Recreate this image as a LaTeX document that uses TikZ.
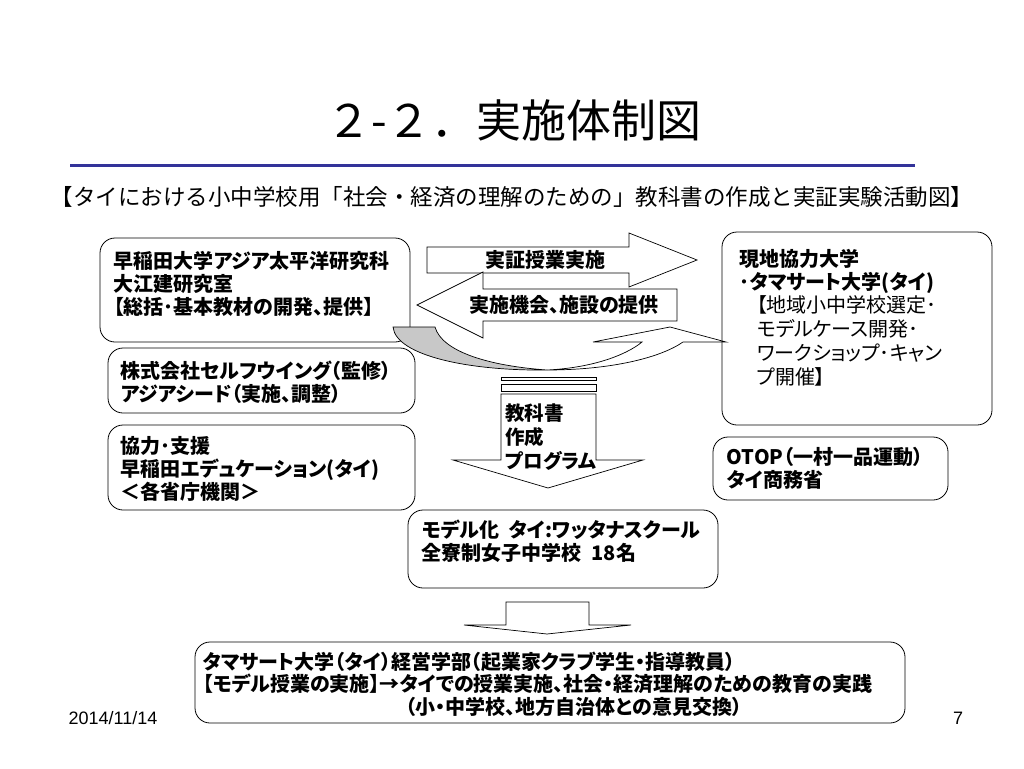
\documentclass[tikz,border=0pt]{standalone}
\usepackage{fontspec}
\setmainfont{Liberation Sans}
\newfontfamily\jp[RawFeature=+palt]{Noto Sans CJK JP}
\newfontfamily\jpw{Noto Sans CJK JP}
\usetikzlibrary{
    positioning,
    calc
}
\definecolor{slideblue}{RGB}{51,51,153}
\definecolor{curlgray}{RGB}{200,200,200}
\newcommand{\orgfont}{\jp\bfseries\fontsize{20}{23}\selectfont}
\newcommand{\orgthin}{\jp\fontsize{20}{24}\selectfont}
\tikzset{
    org/.style={
        draw, line width=0.8pt, rounded corners=15pt,
        fill=white, inner sep=0pt
    },
    org_text/.style={
        anchor=north west, align=left, inner sep=0pt, font=\orgfont
    },
    fat_arrow/.style={
        draw, line width=0.7pt, fill=white, line join=miter
    },
    arrow_label/.style={
        inner sep=0pt, font=\orgfont
    }
}
\begin{document}
\begin{tikzpicture}[x=1pt, y=-1pt]
    \useasboundingbox (0,0) rectangle (1024,768);

    % --- TITLE ---
    \node[font=\jpw\fontsize{45}{50}\selectfont] (title) at (514,120) {２-２．実施体制図};
    \coordinate (rule_l) at (70,165);
    \coordinate (rule_r) at (915,165);
    \draw[slideblue, line width=3pt] (rule_l) -- (rule_r);
    \node[font=\jpw\fontsize{22.5}{26}\selectfont] (subtitle) at (512,197)
        {【タイにおける小中学校用「社会・経済の理解のための」教科書の作成と実証実験活動図】};

    % --- LEFT SIDE ---
    \node[org, minimum width=310pt, minimum height=104pt] (waseda) at (255,290) {};
    \node[org_text, below right=13pt and 14pt of waseda.north west] (waseda_txt)
        {早稲田大学アジア太平洋研究科\\大江建研究室\\【総括･基本教材の開発、提供】};

    \node[org, minimum width=307pt, minimum height=65pt] (selfwing) at (261.5,380.5) {};
    \node[org_text, below right=13pt and 13pt of selfwing.north west] (selfwing_txt)
        {株式会社セルフウイング（監修）\\アジアシード（実施、調整）};

    \node[org, minimum width=307pt, minimum height=85pt] (support) at (261.5,467.5) {};
    \node[org_text, below right=12pt and 13pt of support.north west] (support_txt)
        {協力･支援\\早稲田エデュケーション(タイ)\\＜各省庁機関＞};

    % --- RIGHT SIDE ---
    \node[org, minimum width=270pt, minimum height=193pt] (thammasat) at (857,328.5) {};
    \node[org_text, below right=17pt and 18pt of thammasat.north west] (thammasat_txt)
        {現地協力大学\\･タマサート大学(タイ)};
    \node[org_text, font=\orgthin, below=2pt of thammasat_txt.south west, anchor=north west, xshift=17pt] (thammasat_sub)
        {【地域小中学校選定･\\モデルケース開発･\\ワークショップ･キャン\\プ開催】};

    \node[org, minimum width=235pt, minimum height=63pt] (otop) at (830.5,468.5) {};
    \node[org_text, below right=10pt and 14pt of otop.north west] (otop_txt)
        {OTOP（一村一品運動）\\タイ商務省};

    % --- MODEL SCHOOL ---
    \node[org, minimum width=310pt, minimum height=78pt] (model) at (563,549) {};
    \node[org_text, below right=10pt and 14pt of model.north west] (model_txt)
        {モデル化\hspace{0.5em}タイ:ワッタナスクール\\全寮制女子中学校\hspace{0.5em}18名};

    % --- BOTTOM ---
    \node[org, minimum width=710pt, minimum height=81pt] (practice) at (550,682.5) {};
    \node[org_text, font=\jp\bfseries\fontsize{20}{22.5}\selectfont, below right=10pt and 8pt of practice.north west] (practice_txt)
        {タマサート大学（タイ）経営学部（起業家クラブ学生・指導教員）\\【モデル授業の実施】→タイでの授業実施、社会・経済理解のための教育の実践};
    \node[org_text, font=\jp\bfseries\fontsize{20}{22.5}\selectfont, below=3pt of practice_txt.south west, anchor=north west, xshift=203pt] (practice_sub)
        {（小・中学校、地方自治体との意見交換）};

    % --- BLOCK ARROWS ---
    \draw[fat_arrow] (427,247) -- (629,247) -- (629,233) -- (697,260) -- (629,287)
        -- (629,273) -- (427,273) -- cycle;
    \node[arrow_label] (demo_lbl) at (545,260) {実証授業実施};

    \draw[fat_arrow] (677,289) -- (483,289) -- (483,272) -- (417,305) -- (483,338)
        -- (483,321) -- (677,321) -- cycle;
    \node[arrow_label] (venue_lbl) at (564,305) {実施機会、施設の提供};

    % curl under the two arrows
    \draw[line width=0.7pt, fill=curlgray] (393,327) -- (435,327)
        .. controls (442,352) and (490,366) .. (547,370)
        .. controls (470,371) and (396,356) .. (393,327) -- cycle;
    \draw[fat_arrow] (547,370) .. controls (610,370) and (660,358) .. (683,342)
        -- (726,342) -- (670,327) -- (593,342) -- (642,342)
        .. controls (625,356) and (590,368) .. (547,370) -- cycle;

    % textbook arrow
    \draw[line width=0.7pt] (501,377) rectangle (596,380);
    \draw[line width=0.7pt] (501,384) rectangle (596,391);
    \draw[fat_arrow] (501,394) -- (596,394) -- (596,460) -- (643,460) -- (548,488)
        -- (453,460) -- (501,460) -- cycle;
    \node[org_text, font=\jp\bfseries\fontsize{19.5}{24}\selectfont, anchor=north west] (book_txt) at (505,404)
        {教科書\\作成\\プログラム};

    \draw[fat_arrow] (506,602) -- (589,602) -- (589,625) -- (631,625) -- (547,634)
        -- (464,625) -- (506,625) -- cycle;

    % --- FOOTER ---
    \node[font=\fontsize{18}{20}\selectfont] (date) at (113,718) {2014/11/14};
    \node[font=\fontsize{18}{20}\selectfont] (page) at (958,718) {7};
\end{tikzpicture}
\end{document}
